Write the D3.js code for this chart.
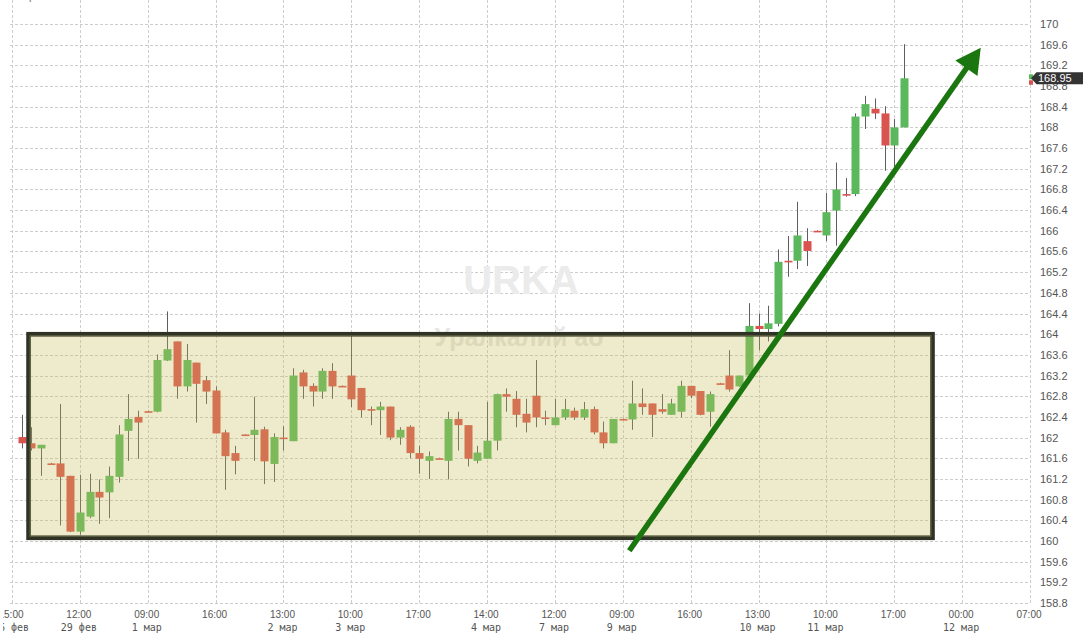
<!DOCTYPE html>
<html><head><meta charset="utf-8">
<script src="https://cdn.jsdelivr.net/npm/d3@7/dist/d3.min.js"></script>
<style>body{margin:0;background:#fff;overflow:hidden}svg{display:block}</style>
</head><body>
<svg id="c" width="1086" height="635"></svg>
<script>
// ---- data (hourly candles, index 0..91) ----
const opens  = [162.01,161.89,161.79,161.50,161.50,161.26,160.18,160.47,160.95,160.94,161.24,162.13,162.40,162.51,162.50,163.49,163.86,162.99,163.45,163.11,162.91,162.10,161.70,162.06,162.05,162.16,161.49,162.00,161.93,163.26,163.00,162.89,163.29,163.00,163.20,162.96,162.55,162.53,162.60,162.00,162.21,161.70,161.55,161.60,161.55,162.36,162.24,161.55,161.59,161.94,162.84,162.75,162.46,162.81,162.39,162.24,162.39,162.52,162.39,162.55,162.10,161.89,162.36,162.35,162.66,162.66,162.55,162.44,162.50,163.00,162.90,162.50,163.05,163.20,162.99,163.20,164.16,164.10,164.20,165.42,165.42,165.80,166.00,165.91,166.39,166.71,166.71,168.21,168.36,168.27,167.65,168.00];
const highs  = [162.44,162.20,161.86,161.51,162.65,161.26,161.28,161.30,161.19,161.44,162.24,162.84,162.52,162.52,163.61,164.44,163.86,163.81,163.45,163.19,162.99,162.15,161.84,162.06,162.79,162.21,162.08,162.22,163.34,163.31,163.05,163.34,163.44,163.01,164.00,162.96,162.60,162.69,162.60,162.20,162.24,161.84,161.73,161.61,162.50,162.50,162.24,161.84,162.69,162.85,162.95,162.90,162.75,163.50,162.52,162.75,162.75,162.58,162.69,162.60,162.31,162.36,162.37,163.10,162.95,162.66,162.84,162.75,163.10,163.00,162.90,162.89,163.06,163.69,163.20,164.60,164.40,164.55,165.64,165.90,166.56,166.05,166.01,166.73,167.32,167.02,168.27,168.61,168.56,168.41,168.16,169.61];
const lows   = [161.79,161.75,161.26,161.48,160.30,160.17,160.12,160.44,160.33,160.44,161.13,161.55,161.59,162.50,162.49,163.48,162.75,162.89,162.29,162.65,162.08,160.99,161.29,162.05,161.55,161.10,161.14,161.75,161.93,162.75,162.60,162.75,162.75,162.99,162.59,162.39,162.24,162.05,161.95,161.86,161.60,161.30,161.20,161.59,161.19,161.75,161.44,161.50,161.59,161.75,162.50,162.20,162.10,162.20,162.24,162.24,162.34,162.34,162.34,162.06,161.79,161.89,162.35,162.15,162.44,162.01,162.46,162.44,162.39,162.76,162.43,162.21,163.04,162.89,162.98,163.20,163.69,163.86,164.15,165.11,165.26,165.32,165.99,165.80,165.71,166.66,166.67,167.97,168.16,167.16,167.24,168.00];
const closes = [161.89,161.79,161.86,161.49,161.24,160.18,160.55,160.95,160.84,161.26,162.06,162.36,162.29,162.50,163.50,163.71,162.99,163.50,163.04,162.89,162.08,161.64,161.55,162.05,162.15,161.54,162.01,161.99,163.20,162.99,162.89,163.29,162.99,162.99,162.74,162.53,162.54,162.60,162.00,162.15,161.70,161.59,161.64,161.59,162.36,162.24,161.59,161.71,161.94,162.84,162.79,162.44,162.29,162.39,162.38,162.39,162.55,162.39,162.55,162.10,161.89,162.36,162.35,162.66,162.59,162.44,162.50,162.66,163.00,162.81,162.44,162.84,163.04,162.93,163.20,164.16,164.10,164.21,165.40,165.41,165.91,165.61,165.99,166.36,166.80,166.70,168.21,168.45,168.27,167.65,168.00,168.95];

const tickIndex = [-1,6,13,20,27,34,41,48,55,62,69,76,83,90,97,104];
const tickTimes = ["15:00","12:00","09:00","16:00","13:00","10:00","17:00","14:00","12:00","09:00","16:00","13:00","10:00","17:00","00:00","07:00"];
const tickDates = ["26 фев","29 фев","1 мар","","2 мар","3 мар","","4 мар","7 мар","9 мар","","10 мар","11 мар","","12 мар",""];
const priceTicks = d3.range(0,29).map(i => +(158.8 + i*0.4).toFixed(1));

const zoneIdx = [0.7, 93.95];
const zonePrice = [160.06, 164.0];
const trendIdx = [62.67, 98.92];
const trendPrice = [159.81, 169.54];
const watermark = ["URKA", "Уралкалий ао"];
const lastPrice = 168.95;

// ---- scales ----
const svg = d3.select("#c");
const x = d3.scaleLinear().domain([-1,104]).range([12,1030]);
const y = d3.scaleLinear().domain([158.8,170]).range([603,24]);
const font = "'Liberation Sans', Arial, sans-serif";
const mono = "'DejaVu Sans Mono', 'Liberation Mono', monospace";

svg.append("defs").append("clipPath").attr("id","xclip")
  .append("rect").attr("x", 3).attr("y", 604).attr("width", 1083).attr("height", 31);

// grid
const g = svg.append("g");
g.selectAll("line.v").data(tickIndex).join("line")
  .attr("x1", d => Math.round(x(d))+0.5).attr("x2", d => Math.round(x(d))+0.5)
  .attr("y1", 0).attr("y2", 604)
  .attr("stroke", "#cdcdcd").attr("stroke-dasharray", "3,2");
g.selectAll("line.h").data(priceTicks).join("line")
  .attr("x1", 10).attr("x2", 1030)
  .attr("y1", d => Math.round(y(d))+0.5).attr("y2", d => Math.round(y(d))+0.5)
  .attr("stroke", "#cdcdcd").attr("stroke-dasharray", "3,2");

// y labels
svg.append("g").selectAll("text").data(priceTicks).join("text")
  .attr("x", 1040).attr("y", d => y(d)+4)
  .attr("font-family", font).attr("font-size", 11).attr("fill", "#555")
  .text(d => String(d));

// x labels
const xl = svg.append("g").attr("fill", "#555").attr("text-anchor","middle").attr("clip-path","url(#xclip)");
xl.selectAll("text.t").data(tickIndex).join("text")
  .attr("font-family", font).attr("font-size", 10)
  .attr("x", d => x(d)-1).attr("y", 618).text((d,i) => tickTimes[i]);
xl.selectAll("text.d").data(tickIndex).join("text")
  .attr("font-family", mono).attr("font-size", 10)
  .attr("x", d => x(d)-1).attr("y", 631).text((d,i) => tickDates[i]);

// top-left fragment
svg.append("text").attr("x", 29).attr("y", 0).attr("font-family", font).attr("font-size", 11).attr("fill", "#777").text("р");

// watermark
svg.append("text").attr("x", 521).attr("y", 294).attr("text-anchor","middle")
  .attr("font-family", font).attr("font-weight","bold").attr("font-size", 40).attr("fill", "#ebebeb").text(watermark[0]);
svg.append("text").attr("x", 519).attr("y", 346).attr("text-anchor","middle")
  .attr("font-family", font).attr("font-weight","bold").attr("font-size", 25).attr("fill", "#e6e6e6").text(watermark[1]);

// candles
const RED = "#d9534f", GREEN = "#5cb85c";
const idx = d3.range(opens.length);
const cg = svg.append("g");
cg.selectAll("line").data(idx).join("line")
  .attr("x1", i => Math.round(x(i))+0.5).attr("x2", i => Math.round(x(i))+0.5)
  .attr("y1", i => y(highs[i])).attr("y2", i => y(lows[i]))
  .attr("stroke", "#5e5e5e").attr("stroke-width", 1);
cg.selectAll("rect").data(idx).join("rect")
  .attr("x", i => Math.round(x(i))-3.5).attr("width", 8)
  .attr("y", i => y(Math.max(opens[i],closes[i])))
  .attr("height", i => Math.max(1.6, Math.abs(y(opens[i])-y(closes[i]))))
  .attr("fill", i => closes[i] >= opens[i] ? GREEN : RED);

// zone box
const zx0 = x(zoneIdx[0]), zx1 = x(zoneIdx[1]), zy0 = y(zonePrice[1]), zy1 = y(zonePrice[0]);
svg.append("rect").attr("x", zx0).attr("y", zy0).attr("width", zx1-zx0).attr("height", zy1-zy0)
  .attr("fill", "rgba(200,188,85,0.3)").attr("stroke", "#2f3325").attr("stroke-width", 4.5);
svg.append("rect").attr("x", zx0+1.6).attr("y", zy0+1.6).attr("width", zx1-zx0-3.2).attr("height", zy1-zy0-3.2)
  .attr("fill", "none").attr("stroke", "#5f6040").attr("stroke-width", 1.2);

// trend arrow
const ax0 = x(trendIdx[0]), ay0 = y(trendPrice[0]), ax1 = x(trendIdx[1]), ay1 = y(trendPrice[1]);
const L = Math.hypot(ax1-ax0, ay1-ay0), ux = (ax1-ax0)/L, uy = (ay1-ay0)/L;
const headLen = 25, headHalf = 13.5;
const bx = ax1 - ux*headLen, by = ay1 - uy*headLen;
svg.append("line").attr("x1", ax0).attr("y1", ay0).attr("x2", bx+ux*2).attr("y2", by+uy*2)
  .attr("stroke", "#1b760f").attr("stroke-width", 5.5);
svg.append("path").attr("d", `M${ax1},${ay1}L${bx - uy*headHalf},${by + ux*headHalf}L${bx + uy*headHalf},${by - ux*headHalf}Z`)
  .attr("fill", "#1b760f");

// last price markers + tag
const py = y(lastPrice);
svg.append("rect").attr("x", 1029).attr("y", py-4).attr("width", 4).attr("height", 5).attr("fill", GREEN);
svg.append("rect").attr("x", 1029).attr("y", py+2).attr("width", 4).attr("height", 4.5).attr("fill", RED);
svg.append("path").attr("d", `M1031,${py}L1036.5,${py-6}L1083,${py-6}L1083,${py+6}L1036.5,${py+6}Z`).attr("fill", "#333");
svg.append("text").attr("x", 1038).attr("y", py+4).attr("font-family", font).attr("font-size", 11).attr("fill", "#fff").text(lastPrice.toFixed(2));
</script>
</body></html>
